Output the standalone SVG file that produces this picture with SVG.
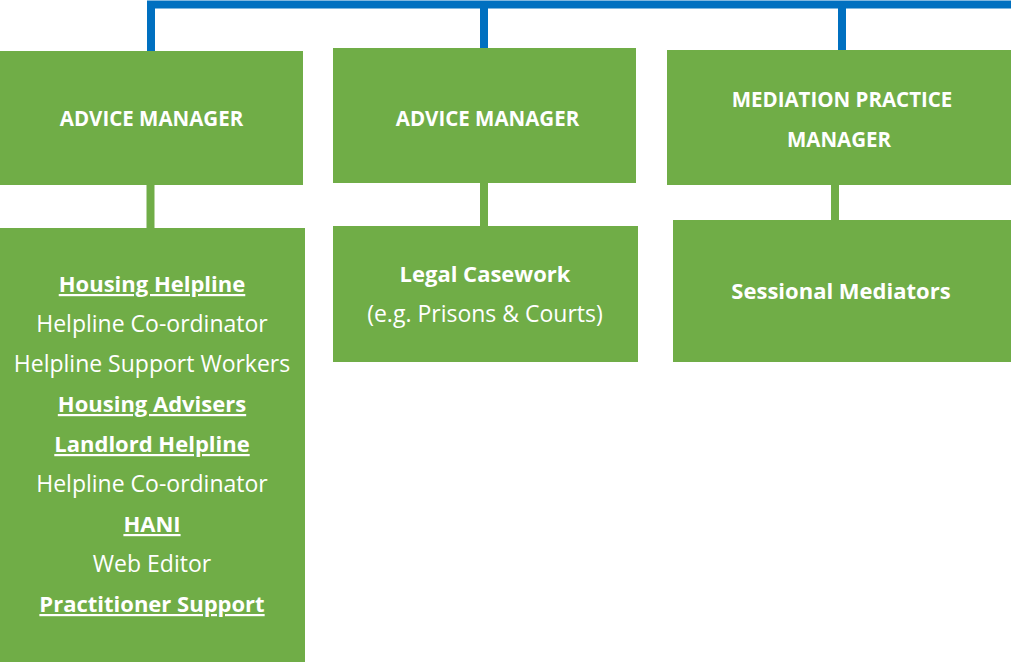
<svg xmlns="http://www.w3.org/2000/svg" width="1011" height="663" viewBox="0 0 1011 663">
<style>
.box{fill:#70AD47}
.t{font-family:"Open Sans","Liberation Sans",sans-serif;fill:#fff;text-anchor:middle}
.h{font-size:20.5px;font-weight:bold}
.b{font-size:22px;font-weight:bold}
.r{font-size:23px}
.u{text-decoration:underline}
.blue{stroke:#0070C0;stroke-width:8;fill:none}
.green{stroke:#70AD47;stroke-width:8;fill:none}
</style>
<rect width="1011" height="663" fill="#fff"/>
<g id="connectors">
<path class="blue" d="M151,51 V4.5 H1011"/>
<path class="blue" d="M484,48 V4.5"/>
<path class="blue" d="M842,50 V4.5"/>
<path class="green" d="M150.5,184 V229"/>
<path class="green" d="M484,182 V227"/>
<path class="green" d="M835,184 V221"/>
</g>
<g id="advice-manager-1">
<rect class="box" x="0" y="51" width="303" height="134"/>
<text class="t h" x="151.5" y="126">ADVICE MANAGER</text>
</g>
<g id="advice-manager-2">
<rect class="box" x="333" y="48" width="303" height="135"/>
<text class="t h" x="487.5" y="126">ADVICE MANAGER</text>
</g>
<g id="mediation-manager">
<rect class="box" x="667" y="50" width="344" height="135"/>
<text class="t h" x="842" y="107">MEDIATION PRACTICE</text>
<text class="t h" x="839" y="147">MANAGER</text>
</g>
<g id="housing">
<rect class="box" x="0" y="228" width="305" height="434"/>
<text class="t b u" x="152" y="292">Housing Helpline</text>
<text class="t r" x="152" y="332">Helpline Co-ordinator</text>
<text class="t r" x="152" y="372">Helpline Support Workers</text>
<text class="t b u" x="152" y="412">Housing Advisers</text>
<text class="t b u" x="152" y="452">Landlord Helpline</text>
<text class="t r" x="152" y="492">Helpline Co-ordinator</text>
<text class="t b u" x="152" y="532">HANI</text>
<text class="t r" x="152" y="572">Web Editor</text>
<text class="t b u" x="152" y="612">Practitioner Support</text>
</g>
<g id="legal">
<rect class="box" x="333" y="226" width="305" height="136"/>
<text class="t b" x="485" y="282">Legal Casework</text>
<text class="t r" x="485" y="322">(e.g. Prisons &amp; Courts)</text>
</g>
<g id="sessional">
<rect class="box" x="673" y="220" width="338" height="142"/>
<text class="t b" x="841" y="299">Sessional Mediators</text>
</g>
</svg>
